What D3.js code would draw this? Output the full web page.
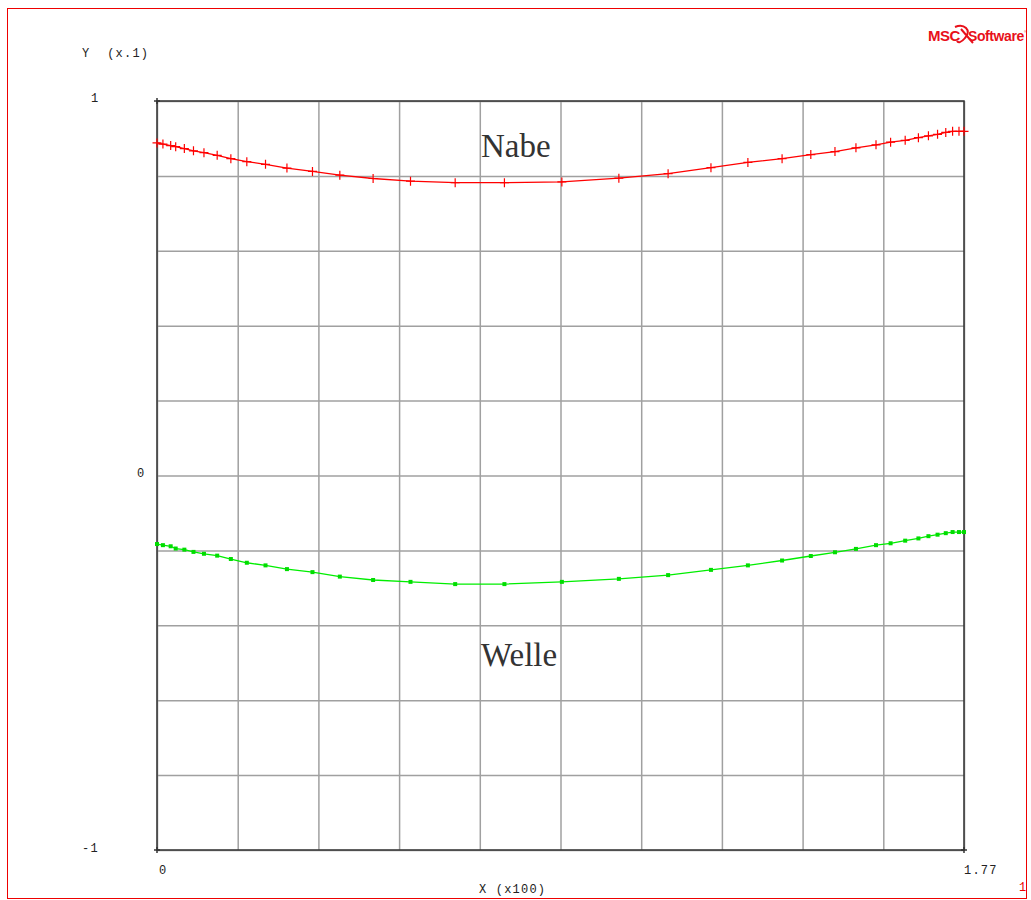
<!DOCTYPE html>
<html><head><meta charset="utf-8">
<script src="https://cdn.jsdelivr.net/npm/d3@7"></script>
<style>body{margin:0;background:#fff}svg{display:block}</style>
</head><body>
<script>
const xValues = [0,0.013,0.030,0.041,0.060,0.080,0.103,0.132,0.162,0.197,0.238,0.285,0.341,0.401,0.474,0.556,0.654,0.762,0.888,1.013,1.121,1.215,1.296,1.371,1.434,1.487,1.533,1.577,1.609,1.641,1.670,1.692,1.712,1.730,1.745,1.759,1.770];
const nabe = [0.888,0.885,0.881,0.878,0.873,0.867,0.862,0.855,0.846,0.838,0.831,0.821,0.812,0.802,0.793,0.786,0.782,0.782,0.784,0.794,0.806,0.822,0.836,0.846,0.857,0.865,0.875,0.883,0.890,0.895,0.902,0.907,0.911,0.916,0.919,0.919,0.919];
const welle = [-0.183,-0.186,-0.189,-0.195,-0.198,-0.204,-0.209,-0.214,-0.223,-0.233,-0.240,-0.250,-0.258,-0.270,-0.279,-0.284,-0.290,-0.290,-0.284,-0.276,-0.266,-0.252,-0.240,-0.227,-0.215,-0.205,-0.196,-0.186,-0.181,-0.174,-0.168,-0.162,-0.158,-0.154,-0.151,-0.151,-0.151];
const xDomain = [0, 1.77];
const yDomain = [-1, 1];
const yTickLabels = ["-1", "0", "1"];
const xTickLabels = ["0", "1.77"];

const W = 1031, H = 900;
const svg = d3.select("body").append("svg").attr("width", W).attr("height", H);
svg.append("rect").attr("x", 7.5).attr("y", 8.5).attr("width", 1019).attr("height", 890)
  .attr("fill", "none").attr("stroke", "#e00").attr("stroke-width", 1);

const x = d3.scaleLinear().domain(xDomain).range([157, 964]);
const y = d3.scaleLinear().domain(yDomain).range([850, 101]);
const xt = d3.range(11).map(i => xDomain[0] + i * (xDomain[1] - xDomain[0]) / 10);
const yt = d3.range(11).map(i => yDomain[0] + i * (yDomain[1] - yDomain[0]) / 10);

// grid
const gx = svg.append("g").attr("transform", `translate(0,${y(-1)})`)
  .call(d3.axisBottom(x).tickValues(xt).tickSize(-(y(-1) - y(1))).tickFormat(""));
const gy = svg.append("g").attr("transform", `translate(${x(0)},0)`)
  .call(d3.axisLeft(y).tickValues(yt).tickSize(-(x(1.77) - x(0))).tickFormat(""));
[gx, gy].forEach(g => {
  g.select(".domain").remove();
  g.selectAll(".tick line").attr("stroke", "#a0a0a0").attr("stroke-width", 1.5);
});
// frame
svg.append("rect").attr("x", x(0)).attr("y", y(1)).attr("width", x(1.77) - x(0)).attr("height", y(-1) - y(1))
  .attr("fill", "none").attr("stroke", "#333").attr("stroke-width", 1.5);
// corner ticks
[[x(0), y(1)], [x(0), y(-1)], [x(1.77), y(-1)]].forEach(([cx, cy]) => {
  svg.append("line").attr("x1", cx - 3).attr("x2", cx + 3).attr("y1", cy).attr("y2", cy).attr("stroke", "#333").attr("stroke-width", 1.5);
  svg.append("line").attr("x1", cx).attr("x2", cx).attr("y1", cy - 3).attr("y2", cy + 3).attr("stroke", "#333").attr("stroke-width", 1.5);
});

const mono = "'Liberation Mono', 'DejaVu Sans Mono', monospace";
function txt(t, px, py, opts = {}) {
  return svg.append("text").attr("x", px).attr("y", py).text(t)
    .attr("font-family", opts.family || mono).attr("font-size", opts.size || 12)
    .attr("fill", opts.fill || "#222").attr("text-anchor", opts.anchor || "start")
    .attr("letter-spacing", opts.ls != null ? opts.ls : 1.2)
    .style("white-space", "pre");
}
txt("Y  (x.1)", 82, 57);
txt(yTickLabels[2], 91, y(1) + 1);
txt(yTickLabels[1], 137, y(0) + 1);
txt(yTickLabels[0], 82, y(-1) + 2);
txt(xTickLabels[0], x(0) + 2, 874);
txt(xTickLabels[1], x(1.77), 874);
txt("X (x100)", 479, 893);
txt("1", 1019, 891, {fill: "#e00"});

// series
const pts = vals => xValues.map((v, i) => [x(v), y(vals[i])]);
const line = d3.line();
svg.append("path").attr("d", line(pts(nabe))).attr("fill", "none").attr("stroke", "#f00").attr("stroke-width", 1.3);
svg.append("path").attr("d", line(pts(welle))).attr("fill", "none").attr("stroke", "#0e0").attr("stroke-width", 1.3);
svg.append("g").selectAll("path").data(pts(nabe)).join("path")
  .attr("d", d => `M${d[0] - 4.5},${d[1]}H${d[0] + 4.5}M${d[0]},${d[1] - 4.5}V${d[1] + 4.5}`)
  .attr("stroke", "#f00").attr("stroke-width", 1.2);
svg.append("g").selectAll("rect").data(pts(welle)).join("rect")
  .attr("x", d => d[0] - 2).attr("y", d => d[1] - 2).attr("width", 4).attr("height", 4).attr("fill", "#0d0");

// labels
const serif = "'Liberation Serif', 'DejaVu Serif', serif";
txt("Nabe", 481, 157, {family: serif, size: 33, fill: "#333", ls: 0});
txt("Welle", 481, 666, {family: serif, size: 33, fill: "#333", ls: 0});

// logo
const logo = svg.append("g");
logo.append("text").attr("x", 928).attr("y", 41).text("MSC").attr("font-family", "'Liberation Sans', Arial, sans-serif")
  .attr("font-weight", "bold").attr("font-size", 15).attr("fill", "#e8101a").attr("letter-spacing", -0.5);
logo.append("path").attr("d", "M955,27 C964,23 972,30 965,38 C961,43 958,43 957,41 M961,29 L973,43")
  .attr("fill", "none").attr("stroke", "#e8101a").attr("stroke-width", 2);
logo.append("text").attr("x", 968).attr("y", 41).text("Software").attr("font-family", "'Liberation Sans', Arial, sans-serif")
  .attr("font-weight", "bold").attr("font-size", 14).attr("fill", "#e8101a").attr("letter-spacing", -0.4);
logo.append("text").attr("x", 1024).attr("y", 33).text("®").attr("font-family", "sans-serif").attr("font-size", 4).attr("fill", "#e8101a");
</script>
</body></html>
